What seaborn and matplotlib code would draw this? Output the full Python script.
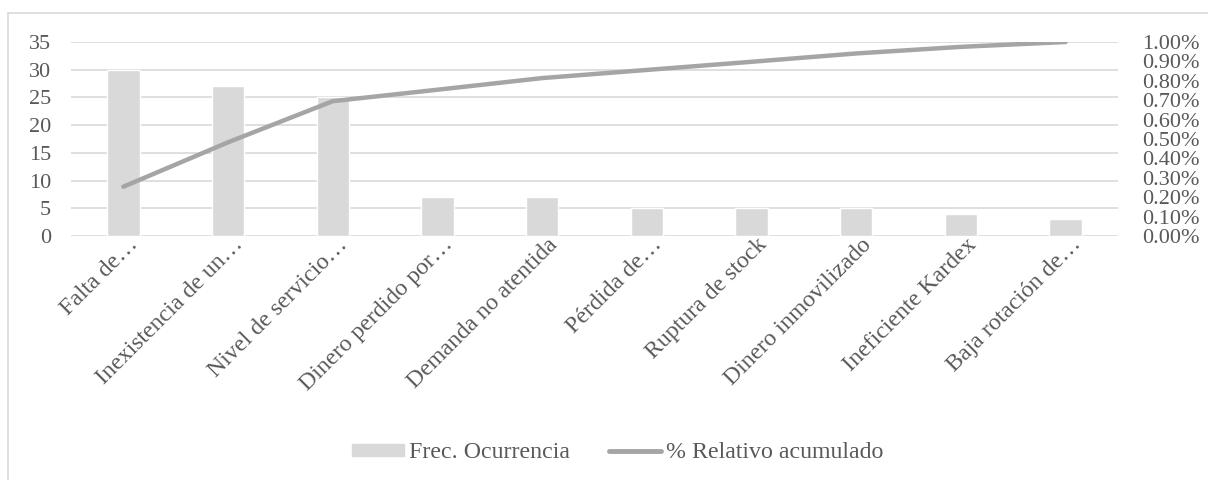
import matplotlib
matplotlib.use("Agg")
import matplotlib.pyplot as plt
import matplotlib.patches as mpatches
import matplotlib.transforms as mtransforms
from matplotlib.lines import Line2D
import seaborn as sns
import numpy as np
import pandas as pd

categories = ["Falta de…", "Inexistencia de un…", "Nivel de servicio…", "Dinero perdido por…",
              "Demanda no atentida", "Pérdida de…", "Ruptura de stock", "Dinero inmovilizado",
              "Ineficiente Kardex", "Baja rotación de…"]
frecuencia = [30, 27, 25, 7, 7, 5, 5, 5, 4, 3]
acumulado = [0.254, 0.483, 0.695, 0.754, 0.814, 0.856, 0.898, 0.941, 0.975, 1.0]
left_ticks = [0, 5, 10, 15, 20, 25, 30, 35]
right_ticks = [0.0, 0.1, 0.2, 0.3, 0.4, 0.5, 0.6, 0.7, 0.8, 0.9, 1.0]

sns.set_theme(style="white")
plt.rcParams['font.family'] = ['Liberation Serif', 'DejaVu Serif']

TXT = "#595959"
BAR = "#d9d9d9"
LINE = "#a5a5a5"
GRID = "#d9d9d9"
FS = 16
XFS = 17.2
LFS = 17.2

df = pd.DataFrame({"cat": categories, "frec": frecuencia, "acum": acumulado,
                   "pos": np.arange(len(categories))})

fig = plt.figure(figsize=(12.08, 4.8), dpi=100)
W, H = 1208, 480
ax = fig.add_axes([71 / W, 1 - 236 / H, (1118 - 71) / W, (236 - 42) / H])

sns.barplot(data=df, x="cat", y="frec", color=BAR, width=0.31, ax=ax, saturation=1)
ax.set_ylim(0, 35)
ax.set_xlim(-0.5, len(categories) - 0.5)
ax.set_yticks(left_ticks)
ax.yaxis.grid(True, color=GRID, linewidth=1.2)
ax.set_axisbelow(True)
for s in ax.spines.values():
    s.set_visible(False)
ax.set_xlabel("")
ax.set_ylabel("")
ax.tick_params(axis="y", length=0, pad=14.5, labelsize=FS, labelcolor=TXT)
ax.tick_params(axis="x", length=0, pad=4, labelsize=XFS, labelcolor=TXT)
ax.set_xticks(range(len(categories)))
ax.set_xticklabels(categories, rotation=45, ha="right", va="center", rotation_mode="anchor")
shift = mtransforms.ScaledTranslation(12 / 100, 0, fig.dpi_scale_trans)
for lab in ax.get_xticklabels():
    lab.set_transform(lab.get_transform() + shift)

ax2 = ax.twinx()
sns.lineplot(data=df, x="pos", y="acum", color=LINE, linewidth=3.2, ax=ax2,
             solid_capstyle="round")
ax2.set_ylim(0, 1.0)
ax2.set_xlim(-0.5, len(categories) - 0.5)
ax2.set_yticks(right_ticks)
ax2.set_yticklabels([f"{v:.2f}%" for v in right_ticks])
ax2.tick_params(axis="y", length=0, pad=17.5, labelsize=FS, labelcolor=TXT)
ax2.set_ylabel("")
ax2.set_xlabel("")
for s in ax2.spines.values():
    s.set_visible(False)
ax2.grid(False)

handles = [mpatches.Patch(color=BAR), Line2D([0], [0], color=LINE, linewidth=3.5,
                                             solid_capstyle="round")]
fig.legend(handles, ["Frec. Ocurrencia", "% Relativo acumulado"], loc="center",
           bbox_to_anchor=(617.5 / W, 1 - 453 / H), ncol=2, frameon=False,
           fontsize=LFS, labelcolor=TXT, handlelength=2.18, handleheight=0.45,
           handletextpad=0.21, columnspacing=1.63, borderpad=0, borderaxespad=0)

border = mpatches.Rectangle((8 / W, -0.01), 1.02, 1 - 13 / H + 0.01, transform=fig.transFigure,
                            fill=False, edgecolor=GRID, linewidth=1.2)
fig.patches.append(border)

fig.savefig("out.png", dpi=100)
